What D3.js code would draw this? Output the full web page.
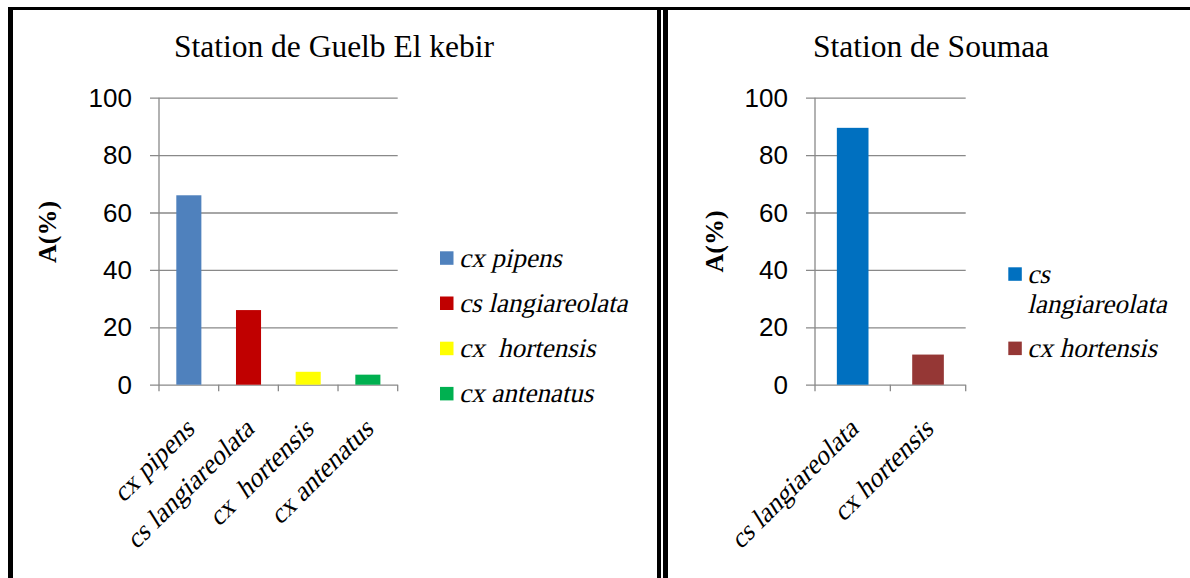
<!DOCTYPE html>
<html>
<head>
<meta charset="utf-8">
<script src="https://cdn.jsdelivr.net/npm/d3@7"></script>
<style>
  html, body { margin: 0; padding: 0; background: #fff; }
  svg { display: block; }
  .tick-label { font-family: "Liberation Sans Narrow", "Liberation Sans", sans-serif; font-size: 26px; fill: #000; }
  .serif { font-family: "Liberation Serif", "Times New Roman", serif; }
  .species { font-family: "Liberation Serif", "Times New Roman", serif; font-size: 27px; white-space: pre; }
</style>
</head>
<body>
<svg id="chart" width="1190" height="578"></svg>
<script>
// Station de Guelb El kebir
const guelbTitle = "Station de Guelb El kebir";
const guelbSpecies = ["cx pipens", "cs langiareolata", "cx  hortensis", "cx antenatus"];
const guelbValues = [66, 26, 4.5, 3.5];
const guelbColors = ["#4f81bd", "#c00000", "#ffff00", "#00b050"];

// Station de Soumaa
const soumaaTitle = "Station de Soumaa";
const soumaaSpecies = ["cs langiareolata", "cx hortensis"];
const soumaaValues = [89.5, 10.5];
const soumaaColors = ["#0070c0", "#953735"];

const yTicks = [0, 20, 40, 60, 80, 100];
const yTitle = "A(%)";

const svg = d3.select("#chart");
svg.append("rect").attr("width", 1190).attr("height", 578).attr("fill", "#fff");

const y = d3.scaleLinear().domain([0, 100]).range([384.7, 97.7]);
const gridColor = "#898989";
const slant = "skewX(-13)";   // slanted serif for species names

function drawPanel(cfg) {
  const g = svg.append("g");
  const x = d3.scaleBand().domain(cfg.species).range([cfg.x0, cfg.x1]).padding(0);
  const step = x.step();
  const barW = step * 0.42;

  // title
  g.append("text").attr("class", "serif")
    .attr("x", cfg.titleX).attr("y", 57)
    .attr("text-anchor", "middle").attr("font-size", 31.5)
    .text(cfg.title);

  // y axis with gridlines
  const yAxis = d3.axisLeft(y).tickValues(yTicks).tickSizeInner(-(cfg.x1 - cfg.x0)).tickSizeOuter(0).tickPadding(0).tickFormat(d3.format("d"));
  const ga = g.append("g").attr("transform", `translate(${cfg.x0},0)`).call(yAxis);
  ga.select(".domain").remove();
  ga.selectAll(".tick line").attr("x1", -9).attr("stroke", gridColor).attr("stroke-width", 1.3);
  ga.selectAll(".tick text").attr("class", "tick-label").attr("x", -27).attr("dy", "0.33em");

  // vertical axis line
  g.append("line").attr("x1", cfg.x0).attr("x2", cfg.x0)
    .attr("y1", y(100)).attr("y2", y(0) + 6.5)
    .attr("stroke", gridColor).attr("stroke-width", 1.3);

  // category boundary ticks
  const bounds = cfg.species.map(s => x(s)).concat([cfg.x1]);
  g.selectAll(".xtick").data(bounds.slice(1)).join("line")
    .attr("x1", d => d).attr("x2", d => d)
    .attr("y1", y(0)).attr("y2", y(0) + 6.5)
    .attr("stroke", gridColor).attr("stroke-width", 1.3);

  // bars
  g.selectAll(".bar").data(cfg.values).join("rect")
    .attr("x", (d, i) => x(cfg.species[i]) + (step - barW) / 2)
    .attr("width", barW)
    .attr("y", d => y(d))
    .attr("height", d => y(0) - y(d))
    .attr("fill", (d, i) => cfg.colors[i]);

  // rotated category labels
  g.selectAll(".xlab").data(cfg.species).join("text")
    .attr("class", "species")
    .attr("text-anchor", "end")
    .attr("transform", d => `translate(${x(d) + step / 2 + 7},431) rotate(-45) ${slant}`)
    .text(d => d);

  // y title
  g.append("text").attr("class", "serif")
    .attr("font-size", 26).attr("font-weight", "bold")
    .attr("text-anchor", "middle")
    .attr("transform", `translate(${cfg.yTitleX},${cfg.yTitleY}) rotate(-90)`)
    .text(yTitle);

  // legend
  const lg = g.append("g");
  cfg.legend.forEach((item, i) => {
    lg.append("rect").attr("x", cfg.legX).attr("y", item.cy - 6.7)
      .attr("width", 13.5).attr("height", 13.5).attr("fill", cfg.colors[i]);
    item.lines.forEach((ln, j) => {
      lg.append("text").attr("class", "species")
        .attr("transform", `translate(${cfg.legX + 19},${item.cy + 8.7 + j * 30.7}) ${slant}`)
        .text(ln);
    });
  });
}

drawPanel({
  title: guelbTitle, species: guelbSpecies, values: guelbValues, colors: guelbColors,
  x0: 159, x1: 397.7, titleX: 334, yTitleX: 55.5, yTitleY: 232,
  legX: 440,
  legend: guelbSpecies.map((s, i) => ({ cy: 258 + i * 45.2, lines: [s] }))
});

drawPanel({
  title: soumaaTitle, species: soumaaSpecies, values: soumaaValues, colors: soumaaColors,
  x0: 815, x1: 965.7, titleX: 931, yTitleX: 723, yTitleY: 241.5,
  legX: 1008.3,
  legend: [
    { cy: 274, lines: ["cs", "langiareolata"] },
    { cy: 348.3, lines: [soumaaSpecies[1]] }
  ]
});

// panel frames
const frame = svg.append("g").attr("stroke", "#000").attr("fill", "none");
frame.append("line").attr("x1", 8).attr("x2", 1190).attr("y1", 8.5).attr("y2", 8.5).attr("stroke-width", 3);
frame.append("line").attr("x1", 10.5).attr("x2", 10.5).attr("y1", 7).attr("y2", 578).attr("stroke-width", 5);
frame.append("line").attr("x1", 659).attr("x2", 659).attr("y1", 7).attr("y2", 578).attr("stroke-width", 4);
frame.append("line").attr("x1", 665.5).attr("x2", 665.5).attr("y1", 7).attr("y2", 578).attr("stroke-width", 5);
</script>
</body>
</html>
